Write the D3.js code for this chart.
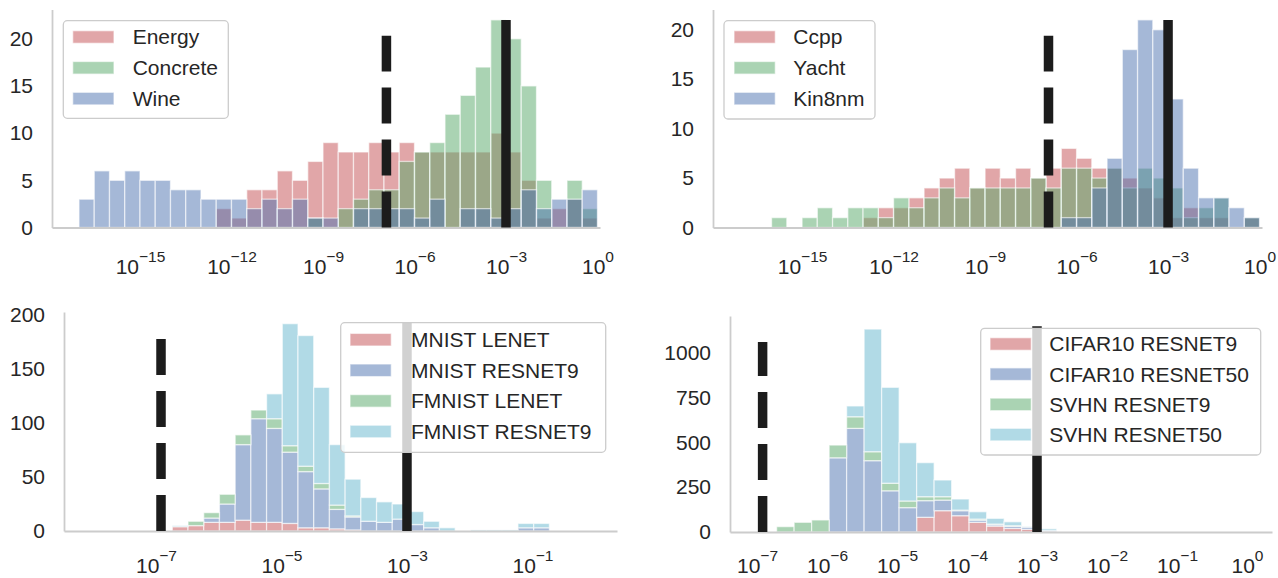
<!DOCTYPE html>
<html>
<head>
<meta charset="utf-8">
<script src="https://cdn.jsdelivr.net/npm/d3@7"></script>
<style>
  body { margin: 0; background: #fff; }
  text { font-family: "Liberation Sans", Arial, sans-serif; fill: #262626; }
</style>
</head>
<body>
<svg id="chart" width="1278" height="578"></svg>
<script>
// ---- data (counts per log10 bin) ----
// top row: 34 bins of half a decade from 1e-17 to 1e0
const topBins = { start: -17, width: 0.5, n: 34 };
const energy   = [0,0,0,0,0,0,0,0,0,2,1,4,4,6,5,7,9,8,8,9,8,9,8,8,8,8,8,10,8,5,1,2,3,1];
const concrete = [0,0,0,0,0,0,0,0,0,0,0,0,0,0,0,1,0,2,3,4,4,7,8,9,12,14,17,22,20,15,5,0,5,2];
const wine     = [3,6,5,6,5,5,4,4,3,3,3,2,3,2,3,1,1,0,2,2,2,2,1,3,0,2,2,1,2,4,2,3,3,4];

const ccpp   = [0,0,0,0,0,0,0,0,1,2,2,3,4,5,6,4,6,5,6,5,6,8,7,6,6,5,4,3,1,2,1,1,0,1];
const yacht  = [0,0,1,0,1,2,1,2,2,1,3,2,3,4,3,4,4,4,4,5,4,6,6,5,6,4,6,5,4,1,2,3,0,1];
const kin8nm = [0,0,0,0,0,0,0,0,0,0,0,0,0,0,0,0,0,0,0,0,0,1,1,4,7,18,21,20,13,6,3,3,2,1];

// bottom left: 24 bins of ~quarter decade
const mnistBins = { start: -6.74, width: 0.2504, n: 24 };
const mnistLenet    = [4,5,8,8,10,8,8,7,3,3,2,1,0,0,0,0,0,0,0,0,0,0,0,0];
const mnistResnet9  = [0,0,4,17,70,96,87,66,52,36,18,12,9,8,11,6,3,0,0,0,0,0,3,3];
const fmnistLenet   = [0,4,5,9,9,8,9,6,5,5,4,1,0,0,0,0,0,0,0,0,0,0,0,0];
const fmnistResnet9 = [1,0,0,0,0,0,23,113,121,89,56,34,22,19,14,12,6,3,0,1,1,1,4,4];

// bottom right: 16 bins of a quarter decade
const cifarBins = { start: -6.72, width: 0.25, n: 16 };
const cifarResnet9  = [0,0,0,0,0,0,0,0,82,119,91,54,33,20,15,3];
const cifarResnet50 = [0,0,0,414,578,398,230,136,93,59,28,12,8,12,12,5];
const svhnResnet9   = [30,54,67,71,65,50,42,37,22,19,3,6,3,3,0,0];
const svhnResnet50  = [0,0,0,0,60,684,535,325,190,93,62,41,32,22,3,10];

// tick labels
const topExps = [-15,-12,-9,-6,-3,0];
const mnistExps = [-7,-5,-3,-1];
const cifarExps = [-7,-6,-5,-4,-3,-2,-1,0];
const topYTicks = [0,5,10,15,20];
const mnistYTicks = [0,50,100,150,200];
const cifarYTicks = [0,250,500,750,1000];

// threshold lines (log10)
const dashedAt = -6.92;
const solidAt = -3;

const RED = "#C44E52", GREEN = "#55A868", BLUE = "#4C72B0", CYAN = "#64B5CD";

const svg = d3.select("#chart");

function drawPanel(p) {
  const x = d3.scaleLog().domain([10 ** p.xlim[0], 10 ** p.xlim[1]]).range([p.left, p.right]);
  const y = d3.scaleLinear().domain([0, p.ymax]).range([p.bottom, p.top]);
  const g = svg.append("g");
  const edge = k => 10 ** (p.bins.start + p.bins.width * k);

  // bars
  const base = new Array(p.bins.n).fill(0);
  p.series.forEach(s => {
    const rows = s.values.map((v, k) => {
      const y0 = p.stacked ? base[k] : 0;
      if (p.stacked) base[k] += v;
      return { k, y0, y1: y0 + v };
    }).filter(d => d.y1 > d.y0);
    g.append("g").selectAll("rect").data(rows).enter().append("rect")
      .attr("x", d => x(edge(d.k)))
      .attr("width", d => x(edge(d.k + 1)) - x(edge(d.k)))
      .attr("y", d => y(d.y1))
      .attr("height", d => y(d.y0) - y(d.y1))
      .attr("fill", s.color).attr("fill-opacity", 0.5)
      .attr("stroke", "#fff").attr("stroke-opacity", 0.6).attr("stroke-width", 1.3);
  });

  // axes
  const yAxis = g.append("g").attr("transform", `translate(${p.left},0)`)
    .call(d3.axisLeft(y).tickValues(p.yTicks).tickSize(0).tickSizeOuter(0).tickPadding(19).tickFormat(d3.format("d")));
  const xAxis = g.append("g").attr("transform", `translate(0,${p.bottom})`)
    .call(d3.axisBottom(x).tickValues(p.xExps.map(e => 10 ** e)).tickSize(0).tickSizeOuter(0).tickFormat(() => ""));
  [yAxis, xAxis].forEach(a => {
    a.select(".domain").attr("stroke", "#cccccc").attr("stroke-width", 1.8);
    a.selectAll("text").attr("font-size", 21).attr("fill", "#262626");
  });
  xAxis.selectAll(".tick text").each(function(d) {
    const t = d3.select(this).attr("y", p.labelY).attr("dy", 0);
    const e = Math.round(Math.log10(d));
    t.append("tspan").text("10");
    t.append("tspan").attr("dy", -12).attr("font-size", 15.5).text(e < 0 ? "\u2212" + (-e) : String(e));
  });

  // threshold lines
  const h = p.bottom - p.top;
  g.append("line").attr("x1", x(10 ** dashedAt)).attr("x2", x(10 ** dashedAt))
    .attr("y1", p.bottom).attr("y2", p.bottom - 0.88 * h)
    .attr("stroke", "#1c1c1c").attr("stroke-width", 9.5).attr("stroke-dasharray", "36 16");
  g.append("line").attr("x1", x(10 ** solidAt)).attr("x2", x(10 ** solidAt))
    .attr("y1", p.bottom).attr("y2", p.bottom - 0.952 * h)
    .attr("stroke", "#1c1c1c").attr("stroke-width", 9.5);

  // legend
  const L = p.legend;
  const lg = g.append("g");
  lg.append("rect").attr("x", L.x).attr("y", L.y).attr("width", L.w).attr("height", L.h)
    .attr("rx", 4).attr("fill", "#fff").attr("fill-opacity", 0.8)
    .attr("stroke", "#cccccc").attr("stroke-width", 1.3);
  p.series.forEach((s, i) => {
    const cy = L.row0 + i * L.step;
    lg.append("rect").attr("x", L.px).attr("y", cy - 6.3).attr("width", 41.3).attr("height", 12.6)
      .attr("fill", s.color).attr("fill-opacity", 0.5)
      .attr("stroke", "#fff").attr("stroke-opacity", 0.6).attr("stroke-width", 1.3);
    lg.append("text").attr("x", L.tx).attr("y", cy).attr("dy", "0.35em")
      .attr("font-size", 21).text(s.name);
  });
}

drawPanel({
  left: 52, right: 600, top: 9.5, bottom: 227.5, xlim: [-17.885, 0.082], ymax: 23.1, labelY: 46,
  bins: topBins, stacked: false, yTicks: topYTicks, xExps: topExps,
  series: [{ name: "Energy", color: RED, values: energy },
           { name: "Concrete", color: GREEN, values: concrete },
           { name: "Wine", color: BLUE, values: wine }],
  legend: { x: 63.3, y: 20.7, w: 165, h: 97.6, px: 72.7, tx: 132.7, row0: 37, step: 30.8 }
});
drawPanel({
  left: 713, right: 1262, top: 9.5, bottom: 227.5, xlim: [-17.92, 0.08], ymax: 22.05, labelY: 46,
  bins: topBins, stacked: false, yTicks: topYTicks, xExps: topExps,
  series: [{ name: "Ccpp", color: RED, values: ccpp },
           { name: "Yacht", color: GREEN, values: yacht },
           { name: "Kin8nm", color: BLUE, values: kin8nm }],
  legend: { x: 724, y: 20.7, w: 151, h: 98.3, px: 734, tx: 793.3, row0: 37, step: 30.8 }
});
drawPanel({
  left: 64, right: 617, top: 312, bottom: 531, xlim: [-8.466, 0.347], ymax: 202.8, labelY: 42,
  bins: mnistBins, stacked: true, yTicks: mnistYTicks, xExps: mnistExps,
  series: [{ name: "MNIST LENET", color: RED, values: mnistLenet },
           { name: "MNIST RESNET9", color: BLUE, values: mnistResnet9 },
           { name: "FMNIST LENET", color: GREEN, values: fmnistLenet },
           { name: "FMNIST RESNET9", color: CYAN, values: fmnistResnet9 }],
  legend: { x: 340.7, y: 322.7, w: 265, h: 129.6, px: 350, tx: 411, row0: 339.7, step: 30.6 }
});
drawPanel({
  left: 730, right: 1272, top: 316, bottom: 532, xlim: [-7.386, 0.357], ymax: 1205, labelY: 41,
  bins: cifarBins, stacked: true, yTicks: cifarYTicks, xExps: cifarExps,
  series: [{ name: "CIFAR10 RESNET9", color: RED, values: cifarResnet9 },
           { name: "CIFAR10 RESNET50", color: BLUE, values: cifarResnet50 },
           { name: "SVHN RESNET9", color: GREEN, values: svhnResnet9 },
           { name: "SVHN RESNET50", color: CYAN, values: svhnResnet50 }],
  legend: { x: 980.7, y: 328.3, w: 280, h: 126.7, px: 990, tx: 1049.3, row0: 344, step: 30.2 }
});
</script>
</body>
</html>
